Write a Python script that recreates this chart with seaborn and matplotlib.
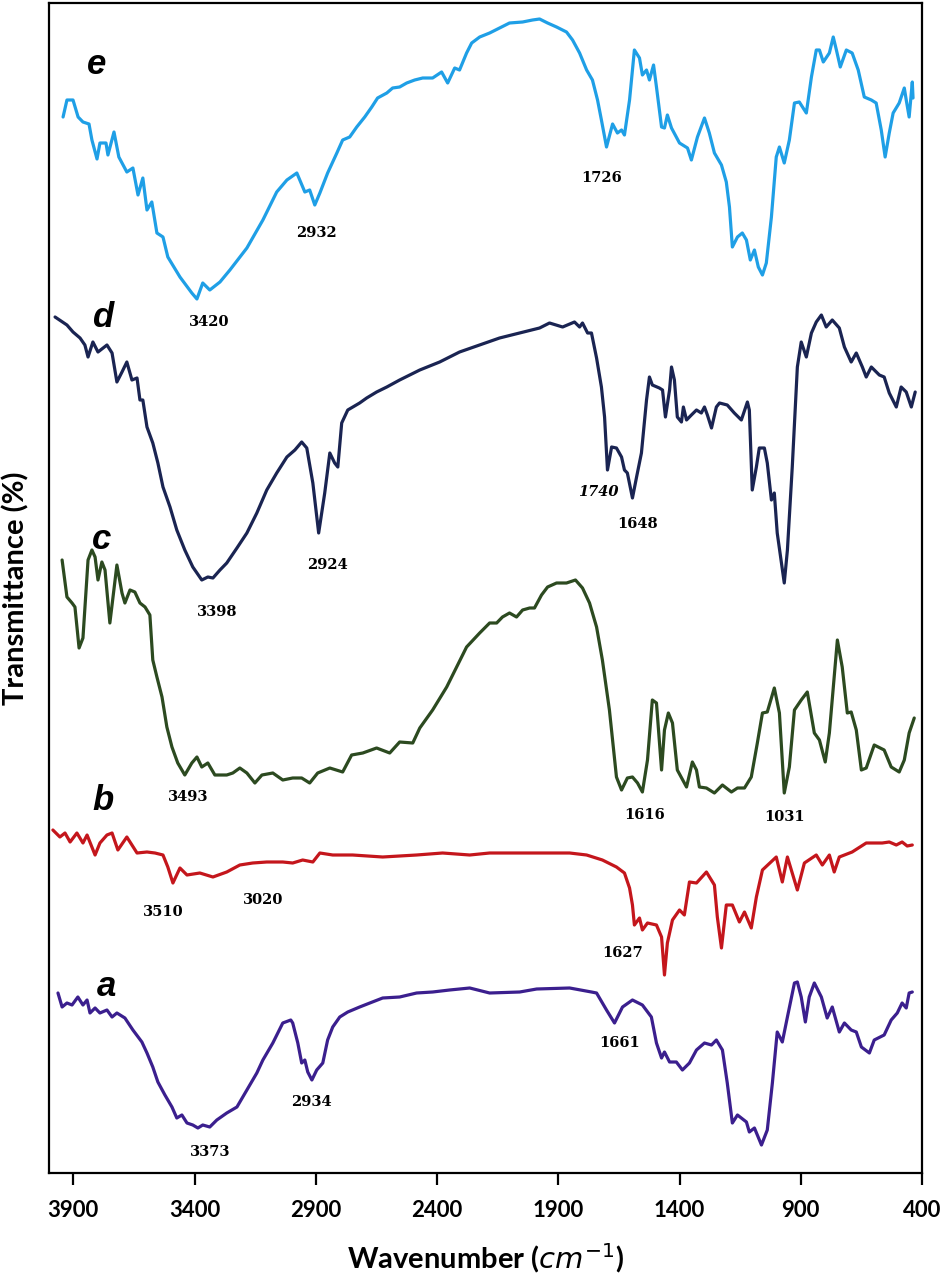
import numpy as np
import pandas as pd
import matplotlib
matplotlib.use("Agg")
import matplotlib.pyplot as plt
import seaborn as sns

# ---------------- data (wavenumber in cm^-1, transmittance in arbitrary offset units) -------------
e_wn = [3942,3926,3901,3880,3860,3835,3823,3802,3790,3765,
        3757,3732,3712,3679,3654,3633,3613,3596,3576,3555,
        3530,3510,3460,3411,3390,3366,3337,3295,3254,3184,
        3118,3061,3019,2978,2945,2925,2904,2883,2851,2813,
        2789,2760,2731,2698,2669,2645,2607,2583,2554,2525,
        2492,2459,2418,2381,2356,2327,2307,2278,2257,2224,
        2183,2142,2101,2047,2006,1977,1944,1907,1866,1841,
        1812,1783,1759,1738,1722,1701,1676,1656,1639,1627,
        1606,1586,1565,1553,1536,1524,1507,1495,1474,1462,
        1450,1433,1400,1367,1351,1326,1297,1277,1256,1227,
        1207,1194,1182,1161,1141,1124,1108,1091,1075,1058,
        1042,1021,1001,988,968,947,926,906,877,856,
        836,823,807,782,766,753,737,712,688,663,
        638,609,589,568,552,535,519,494,473,465,
        453,440,437]
e_T = [105.6,107.3,107.3,105.6,105.1,104.9,103.3,101.4,103.0,103.0,
       101.8,104.1,101.6,100.1,100.5,97.8,99.5,96.3,97.1,94.0,
       93.6,91.6,89.6,88.0,87.4,89.0,88.3,89.1,90.3,92.5,
       95.3,98.1,99.3,100.0,98.1,98.3,96.8,98.0,100.0,102.0,
       103.3,103.6,104.6,105.6,106.6,107.5,108.0,108.5,108.6,109.0,
       109.3,109.5,109.5,110.1,109.0,110.5,110.3,112.0,113.0,113.6,
       114.0,114.5,115.0,115.1,115.3,115.4,115.0,114.6,114.1,113.3,
       112.0,110.3,109.3,107.3,105.3,102.6,104.9,104.0,104.3,103.8,
       107.3,112.3,111.5,109.8,110.3,109.3,110.8,108.6,104.6,104.5,
       105.8,104.5,103.0,102.5,101.3,103.6,105.5,104.0,102.0,100.8,
       99.1,96.6,92.6,93.6,94.0,93.3,91.3,92.3,90.6,89.8,
       91.0,95.6,101.6,102.6,101.0,103.3,107.0,107.1,106.0,109.6,
       112.3,112.3,111.1,112.0,113.6,112.3,110.6,112.3,112.0,110.3,
       107.6,107.3,107.0,104.3,101.6,104.0,106.0,107.0,108.5,107.3,
       105.6,109.1,107.5]

d_wn = [3975,3926,3901,3872,3852,3839,3819,3798,3761,3740,
        3720,3699,3679,3658,3637,3625,3613,3596,3572,3551,
        3530,3501,3473,3440,3407,3370,3345,3324,3295,3267,
        3225,3184,3143,3102,3061,3019,2986,2958,2937,2912,
        2888,2863,2842,2822,2809,2793,2768,2719,2690,2649,
        2607,2554,2471,2389,2307,2224,2142,2059,1977,1936,
        1882,1833,1812,1800,1779,1763,1742,1722,1709,1697,
        1680,1660,1639,1627,1615,1594,1577,1557,1536,1524,
        1512,1483,1470,1458,1441,1433,1421,1409,1392,1384,
        1371,1351,1330,1310,1297,1285,1268,1248,1235,1203,
        1174,1145,1120,1112,1100,1083,1071,1050,1038,1021,
        1009,997,968,955,935,914,898,877,856,836,
        815,795,770,741,720,692,671,646,630,609,
        576,556,535,506,486,465,444,428]
d_T = [85.6,84.8,84.1,83.5,82.8,81.6,83.1,82.1,82.8,82.0,
       79.1,80.1,81.1,79.3,79.5,77.3,77.3,74.6,73.0,71.0,
       68.6,66.6,64.3,62.3,60.6,59.3,59.6,59.5,60.3,61.0,
       62.5,64.0,66.0,68.3,70.0,71.6,72.3,73.1,72.5,69.0,
       64.0,68.0,72.0,71.0,70.6,75.0,76.3,77.0,77.5,78.1,
       78.6,79.3,80.3,81.1,82.1,82.8,83.5,84.0,84.5,85.0,
       84.6,85.1,84.6,85.0,84.0,84.0,81.5,78.6,75.6,70.3,
       72.6,72.5,71.6,70.3,70.0,67.5,69.6,72.0,77.3,79.6,
       78.8,78.5,78.3,75.6,78.3,80.6,79.3,75.6,75.1,76.6,
       75.3,75.8,76.3,76.0,76.6,75.8,74.5,76.6,77.0,76.8,
       76.0,75.3,77.1,76.3,68.3,70.6,72.5,72.5,71.0,67.3,
       68.0,64.0,59.0,62.3,70.6,80.6,83.1,81.6,84.0,85.1,
       85.8,84.6,85.3,84.5,82.6,81.1,82.0,80.6,79.6,80.6,
       79.8,79.6,78.0,76.6,78.6,78.1,76.6,78.1]

c_wn = [3946,3926,3905,3893,3876,3860,3839,3823,3810,3798,
        3782,3769,3749,3720,3699,3687,3666,3646,3625,3604,
        3584,3572,3555,3534,3514,3493,3469,3440,3411,3390,
        3370,3345,3316,3267,3242,3213,3184,3151,3122,3077,
        3036,2995,2958,2925,2892,2842,2789,2752,2706,2649,
        2595,2554,2500,2471,2418,2360,2319,2278,2224,2183,
        2154,2130,2101,2072,2047,2018,1998,1969,1944,1907,
        1866,1829,1800,1771,1742,1718,1689,1660,1639,1615,
        1594,1573,1553,1532,1512,1495,1474,1462,1446,1429,
        1409,1371,1347,1330,1318,1289,1256,1223,1186,1161,
        1132,1104,1079,1058,1038,1009,988,968,947,926,
        898,873,844,823,799,782,749,729,708,692,
        671,650,630,597,556,527,494,473,453,432]
c_T = [61.3,57.6,57.0,56.6,52.5,53.5,61.3,62.3,61.6,59.3,
       61.1,60.3,55.0,60.8,58.0,57.0,58.3,58.1,57.0,56.6,
       55.8,51.3,49.6,47.6,44.6,42.6,41.0,39.8,41.0,41.6,
       40.6,41.0,39.8,39.8,40.0,40.5,40.0,39.0,39.8,40.0,
       39.3,39.5,39.5,39.0,40.0,40.5,40.1,41.8,42.0,42.5,
       42.0,43.1,43.0,44.5,46.3,48.6,50.6,52.6,54.0,55.0,
       55.0,55.6,56.0,55.6,56.3,56.5,56.5,57.8,58.6,59.0,
       59.0,59.3,58.5,57.0,54.6,51.3,46.3,39.6,38.3,39.5,
       39.6,39.0,38.1,41.3,47.3,47.0,40.3,44.3,46.0,45.0,
       40.3,38.6,41.1,40.3,38.6,38.5,38.0,38.8,38.1,38.5,
       38.5,39.6,43.0,46.0,46.1,48.5,46.0,38.0,40.6,46.3,
       47.3,48.1,44.0,43.3,41.1,44.0,53.3,50.6,46.0,46.1,
       44.3,40.3,40.5,42.8,42.3,40.6,40.1,41.3,44.0,45.5]

b_wn = [3984,3955,3934,3913,3885,3860,3843,3810,3790,3761,
        3740,3716,3679,3637,3596,3563,3530,3510,3489,3460,
        3431,3378,3324,3267,3213,3160,3102,3036,2995,2954,
        2912,2883,2830,2748,2624,2484,2377,2265,2183,1989,
        1853,1783,1718,1660,1627,1606,1594,1586,1565,1553,
        1532,1495,1474,1462,1450,1429,1400,1380,1359,1330,
        1289,1256,1244,1227,1207,1182,1153,1132,1104,1083,
        1058,1001,976,955,914,885,836,811,782,762,
        741,688,630,564,535,506,482,461,440]
b_T = [34.3,33.6,34.0,33.1,34.0,33.0,33.8,31.8,33.0,33.8,
       34.0,32.3,33.6,32.0,32.1,32.0,31.8,30.6,29.0,30.5,
       29.8,30.0,29.6,30.1,30.8,31.0,31.1,31.1,31.0,31.3,
       31.1,32.0,31.8,31.8,31.6,31.8,32.0,31.8,32.0,32.0,
       32.0,31.8,31.3,30.6,30.0,28.5,26.8,24.8,25.5,24.3,
       25.0,24.8,23.6,19.8,23.0,25.3,26.3,25.8,29.1,29.0,
       30.1,28.8,25.6,22.5,26.8,26.8,25.1,26.1,24.5,27.6,
       30.3,31.6,29.1,31.6,28.3,31.0,31.8,30.8,31.8,30.1,
       31.6,32.1,33.0,33.0,33.1,32.8,33.1,32.7,32.8]

a_wn = [3963,3946,3926,3905,3881,3860,3843,3831,3810,3790,
        3761,3740,3720,3687,3654,3617,3596,3572,3551,3522,
        3493,3473,3452,3431,3407,3386,3366,3337,3308,3267,
        3225,3184,3143,3118,3077,3036,3003,2995,2974,2958,
        2945,2933,2916,2896,2871,2851,2830,2801,2768,2719,
        2677,2624,2554,2484,2418,2348,2265,2183,2059,1989,
        1853,1763,1742,1701,1668,1635,1594,1553,1516,1495,
        1474,1462,1441,1413,1388,1359,1330,1297,1268,1248,
        1223,1203,1182,1161,1124,1112,1091,1062,1038,1017,
        997,976,955,926,914,898,881,865,844,815,
        791,770,741,720,692,671,650,617,597,556,
        527,502,482,465,453,440]
a_T = [18.0,16.6,17.0,16.8,17.6,16.8,17.3,16.0,16.5,16.0,
       16.3,15.6,16.0,15.5,14.3,13.1,12.0,10.6,9.1,7.8,
       6.6,5.5,5.8,5.0,4.8,4.5,4.8,4.6,5.3,6.0,
       6.6,8.3,10.0,11.3,13.0,15.0,15.3,15.0,13.0,11.0,
       11.3,10.1,9.3,10.3,11.0,13.3,14.6,15.6,16.1,16.6,
       17.0,17.5,17.6,18.0,18.1,18.3,18.5,18.0,18.1,18.4,
       18.5,18.1,18.0,16.3,15.0,16.6,17.3,16.8,15.6,13.0,
       11.5,12.1,11.1,11.1,10.3,11.0,12.3,13.0,12.8,13.3,
       12.3,9.0,5.0,5.8,5.1,4.1,4.5,2.8,4.3,9.0,
       14.1,13.1,15.6,19.0,19.1,17.6,15.1,17.6,19.0,17.6,
       15.5,16.6,14.1,15.0,14.3,14.1,12.6,12.0,13.3,13.8,
       15.3,16.0,17.0,16.5,18.0,18.1]

samples = ["a", "b", "c", "d", "e"]
colors = {"a": "#3b1f8e", "b": "#c4161c", "c": "#2c4a20", "d": "#1a2452", "e": "#1f9fe6"}

# curve-letter labels
letter_wn = [3761, 3778, 3782, 3778, 3802]
letter_T = [18.6, 37.3, 63.3, 85.5, 110.8]

# peak labels
peak_text = ["3420", "2932", "1726", "3398", "2924", "1740", "1648", "3493", "1616",
             "1031", "3510", "3020", "1627", "1661", "2934", "3373"]
peak_wn = [3340, 2896, 1722, 3308, 2851, 1734, 1573, 3427, 1544,
           968, 3530, 3118, 1635, 1647, 2916, 3337]
peak_T = [85.1, 94.0, 99.5, 56.1, 60.8, 68.1, 64.9, 37.6, 35.8,
          35.6, 26.1, 27.3, 22.0, 13.0, 7.1, 2.1]
peak_italic = ["1740"]

xticks = [3900, 3400, 2900, 2400, 1900, 1400, 900, 400]

# ---------------- plot -------------------------------------------------
sns.set_theme(style="white")
plt.rcParams['font.family'] = ['Lato', 'DejaVu Sans']
plt.rcParams['mathtext.fontset'] = 'dejavusans'
plt.rcParams['text.color'] = 'black'
plt.rcParams['axes.labelcolor'] = 'black'

series = {"a": (a_wn, a_T), "b": (b_wn, b_T), "c": (c_wn, c_T), "d": (d_wn, d_T), "e": (e_wn, e_T)}
df = pd.concat([pd.DataFrame({"wn": w, "T": t, "sample": k}) for k, (w, t) in series.items()],
               ignore_index=True)

fig = plt.figure(figsize=(9.45, 12.79), dpi=100)
ax = fig.add_axes([49 / 945, 1 - 1173 / 1279, (922 - 49) / 945, (1173 - 3) / 1279])

sns.lineplot(data=df, x="wn", y="T", hue="sample", palette=colors, estimator=None,
             sort=False, linewidth=2.3, legend=False, ax=ax)
for ln in ax.get_lines():
    ln.set_solid_joinstyle("round")
    ln.set_solid_capstyle("round")

ax.set_xlim(4000, 400)
ax.set_ylim(0, 117)
ax.set_xticks(xticks)
ax.set_xticklabels([str(t) for t in xticks])
ax.set_yticks([])
ax.tick_params(axis="x", bottom=True, direction="out", length=8.5, width=1.6,
               pad=11, labelsize=16, colors="black")
for lbl in ax.get_xticklabels():
    lbl.set_fontweight("bold")
for s in ax.spines.values():
    s.set_visible(True)
    s.set_color("black")
    s.set_linewidth(1.6)

ax.set_xlabel(r"Wavenumber ($cm^{-1}$)", fontsize=21, fontweight="bold", labelpad=14, color="black")
ax.set_ylabel("Transmittance (%)", fontsize=21, fontweight="bold", color="black")
ax.yaxis.set_label_coords(-0.022, 0.5)

for name, w, t in zip(samples, letter_wn, letter_T):
    ax.text(w, t, name, fontsize=25, fontweight="bold", fontstyle="italic",
            family="Liberation Sans", ha="center", va="center", color="black")

for txt, w, t in zip(peak_text, peak_wn, peak_T):
    ax.text(w, t, txt, fontsize=10.5, fontweight="bold",
            fontstyle="italic" if txt in peak_italic else "normal",
            family="DejaVu Serif", ha="center", va="center", color="black")

fig.savefig("out.png", dpi=100)
